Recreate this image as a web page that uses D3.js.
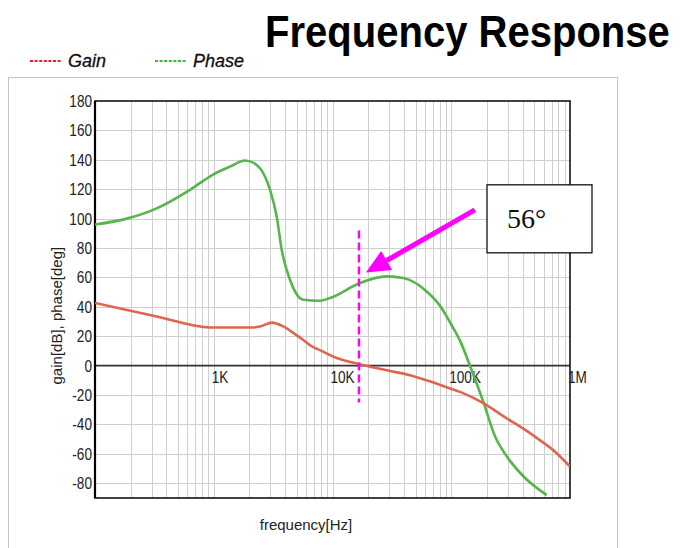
<!DOCTYPE html>
<html>
<head>
<meta charset="utf-8">
<script src="https://cdn.jsdelivr.net/npm/d3@7"></script>
<style>
  html, body { margin: 0; padding: 0; background: #fff; }
  svg { display: block; }
</style>
</head>
<body>
<svg id="chart" width="682" height="548"></svg>
<script>
// ---------- data ----------
const gainFreq  = [100, 331, 930, 2140, 2450, 3100, 3850, 4800, 5680, 6470, 8000, 10840, 17040, 30000, 45000, 65000, 90000, 120000, 186000, 293000, 404600, 560000, 748000, 1000000];
const gainDb    = [42.6, 33.5, 26, 26, 26.6, 29.3, 26.7, 21.6, 17.5, 13.9, 10.2, 5.2, 1.0, -3.5, -6.5, -10.5, -14.5, -18, -25.4, -35.8, -42.8, -50.8, -58.5, -68.6];

const phaseFreq = [100, 185, 331, 631, 986, 1370, 1833, 2300, 2977, 3390, 3735, 4387, 5680, 7850, 9530, 17040, 28580, 39450, 62100, 80000, 100000, 118500, 143800, 186000, 233600, 293000, 404600, 636800];
const phaseDeg  = [96, 100, 107, 119.6, 130, 135.4, 139.5, 136.5, 119.6, 101.4, 78.8, 58.4, 44.8, 44.2, 46, 56.2, 60.7, 59.6, 50.5, 41, 28, 17, 0, -24.5, -48, -61.6, -75.2, -88];

const xTickValues = [1000, 10000, 100000, 1000000];
const xTickLabels = ["1K", "10K", "100K", "1M"];
const yTickValues = [-80, -60, -40, -20, 0, 20, 40, 60, 80, 100, 120, 140, 160, 180];

const seriesNames = ["Gain", "Phase"];
const titleText = "Frequency Response";
const yLabel = "gain[dB], phase[deg]";
const xLabel = "frequency[Hz]";

// annotation (data coordinates)
const markerFreq = 16700;
const markerRange = [92, -25];
const arrowFrom = [158000, 106];
const arrowTo = [19100, 63.4];
const boxAnchor = [200000, 123];
const annotationText = "56°";

// ---------- layout ----------
const svg = d3.select("#chart");
const x = d3.scaleLog().domain([100, 1000000]).range([95, 570]);
const y = d3.scaleLinear().domain([-90, 180]).range([498, 101]);

const gainColor = "#e0654f";
const phaseColor = "#56b54b";
const magenta = "#ff00ff";
const narrow = 0.8;

// outer panel
svg.append("rect").attr("x", 8.5).attr("y", 77.5).attr("width", 609).attr("height", 480)
  .attr("fill", "#fff").attr("stroke", "#c4c4c4").attr("stroke-width", 1);

// grid: vertical (1..9 per decade)
const vGrid = [];
for (let d = 100; d < 1000000; d *= 10) for (let m = 1; m <= 9; m++) vGrid.push(d * m);
svg.append("g").selectAll("line").data(vGrid.filter(v => v > 100)).join("line")
  .attr("x1", d => Math.round(x(d)) + 0.5).attr("x2", d => Math.round(x(d)) + 0.5)
  .attr("y1", y(180)).attr("y2", y(-90))
  .attr("stroke", "#cfcfcf").attr("stroke-width", 1);

// grid: horizontal
svg.append("g").selectAll("line").data(yTickValues.filter(v => v !== 0 && v !== 180)).join("line")
  .attr("x1", x(100)).attr("x2", x(1000000))
  .attr("y1", d => Math.round(y(d)) + 0.5).attr("y2", d => Math.round(y(d)) + 0.5)
  .attr("stroke", "#cfcfcf").attr("stroke-width", 1);

// zero line
svg.append("line").attr("x1", x(100)).attr("x2", x(1000000))
  .attr("y1", y(0)).attr("y2", y(0)).attr("stroke", "#333").attr("stroke-width", 1.6);

// frame
svg.append("rect").attr("x", x(100)).attr("y", y(180))
  .attr("width", x(1000000) - x(100)).attr("height", y(-90) - y(180))
  .attr("fill", "none").attr("stroke", "#111").attr("stroke-width", 1.6);
svg.append("line").attr("x1", x(100)).attr("x2", x(100)).attr("y1", y(180)).attr("y2", y(-90))
  .attr("stroke", "#000").attr("stroke-width", 2.2);

// y tick labels (condensed)
const tickFont = "'Liberation Sans', Arial, sans-serif";
svg.append("g").attr("transform", `scale(${narrow},1)`)
  .selectAll("text").data(yTickValues).join("text")
  .attr("x", (x(100) - 3) / narrow).attr("y", d => y(d) + 6)
  .attr("text-anchor", "end").attr("font-family", tickFont).attr("font-size", 17)
  .attr("fill", "#222").text(d => d);

// x tick labels (condensed)
svg.append("g").attr("transform", `scale(${narrow},1)`)
  .selectAll("text").data(xTickValues).join("text")
  .attr("x", d => (x(d) - 2) / narrow).attr("y", y(0) + 17)
  .attr("text-anchor", "start").attr("font-family", tickFont).attr("font-size", 17)
  .attr("fill", "#222").text((d, i) => xTickLabels[i]);

// clip
svg.append("clipPath").attr("id", "plotclip").append("rect")
  .attr("x", x(100)).attr("y", y(180)).attr("width", x(1000000) - x(100)).attr("height", y(-90) - y(180));

const line = d3.line().x(d => x(d[0])).y(d => y(d[1])).curve(d3.curveMonotoneX);
const gainData = gainFreq.map((f, i) => [f, gainDb[i]]);
const phaseData = phaseFreq.map((f, i) => [f, phaseDeg[i]]);

const plot = svg.append("g").attr("clip-path", "url(#plotclip)");
plot.append("path").datum(phaseData).attr("d", line)
  .attr("fill", "none").attr("stroke", phaseColor).attr("stroke-width", 2.6);
plot.append("path").datum(gainData).attr("d", line)
  .attr("fill", "none").attr("stroke", gainColor).attr("stroke-width", 2.6);

// axis labels
svg.append("text").attr("transform", `translate(62, ${y(34)}) rotate(-90)`)
  .attr("text-anchor", "middle").attr("font-family", "'Liberation Sans', Arial, sans-serif")
  .attr("font-size", 15).attr("fill", "#222").text(yLabel);
svg.append("text").attr("x", 306).attr("y", 530)
  .attr("text-anchor", "middle").attr("font-family", "'Liberation Sans', Arial, sans-serif")
  .attr("font-size", 15).attr("fill", "#222").text(xLabel);

// title (slightly condensed)
svg.append("g").attr("transform", "translate(265,47) scale(0.91,1)")
  .append("text").attr("x", 0).attr("y", 0)
  .attr("font-family", "'Liberation Sans', Arial, sans-serif").attr("font-weight", "bold")
  .attr("font-size", 44).attr("fill", "#000").text(titleText);

// legend
const legend = svg.append("g");
const legendItems = [
  { name: seriesNames[0], color: "#e5202a", x0: 30 },
  { name: seriesNames[1], color: "#2fbf2f", x0: 155 }
];
legendItems.forEach(it => {
  legend.append("line").attr("x1", it.x0).attr("x2", it.x0 + 32).attr("y1", 61).attr("y2", 61)
    .attr("stroke", it.color).attr("stroke-width", 2).attr("stroke-dasharray", "3,1.6");
  legend.append("text").attr("x", it.x0 + 38).attr("y", 67)
    .attr("font-family", "'Liberation Sans', Arial, sans-serif").attr("font-style", "italic")
    .attr("font-size", 18).attr("fill", "#111").attr("stroke", "#111").attr("stroke-width", 0.3)
    .text(it.name);
});

// annotation: dashed marker
svg.append("line").attr("x1", x(markerFreq)).attr("x2", x(markerFreq))
  .attr("y1", y(markerRange[0])).attr("y2", y(markerRange[1]))
  .attr("stroke", magenta).attr("stroke-width", 2.5).attr("stroke-dasharray", "8,4");

// arrow
const ax1 = x(arrowFrom[0]), ay1 = y(arrowFrom[1]);
const ax2 = x(arrowTo[0]), ay2 = y(arrowTo[1]);
const ang = Math.atan2(ay2 - ay1, ax2 - ax1);
const headLen = 24, headW = 11;
const bx = ax2 - headLen * Math.cos(ang), by = ay2 - headLen * Math.sin(ang);
svg.append("line").attr("x1", ax1).attr("y1", ay1).attr("x2", bx).attr("y2", by)
  .attr("stroke", magenta).attr("stroke-width", 5);
svg.append("path")
  .attr("d", `M${ax2},${ay2} L${bx + headW * Math.sin(ang)},${by - headW * Math.cos(ang)} L${bx - headW * Math.sin(ang)},${by + headW * Math.cos(ang)} Z`)
  .attr("fill", magenta);

// annotation box
const bxp = x(boxAnchor[0]), byp = y(boxAnchor[1]);
svg.append("rect").attr("x", bxp).attr("y", byp).attr("width", 105).attr("height", 68)
  .attr("fill", "#fff").attr("stroke", "#111").attr("stroke-width", 1.3);
svg.append("text").attr("x", bxp + 20).attr("y", byp + 43)
  .attr("font-family", "'Liberation Serif', 'Times New Roman', serif").attr("font-size", 28)
  .attr("fill", "#111").text(annotationText);
</script>
</body>
</html>
